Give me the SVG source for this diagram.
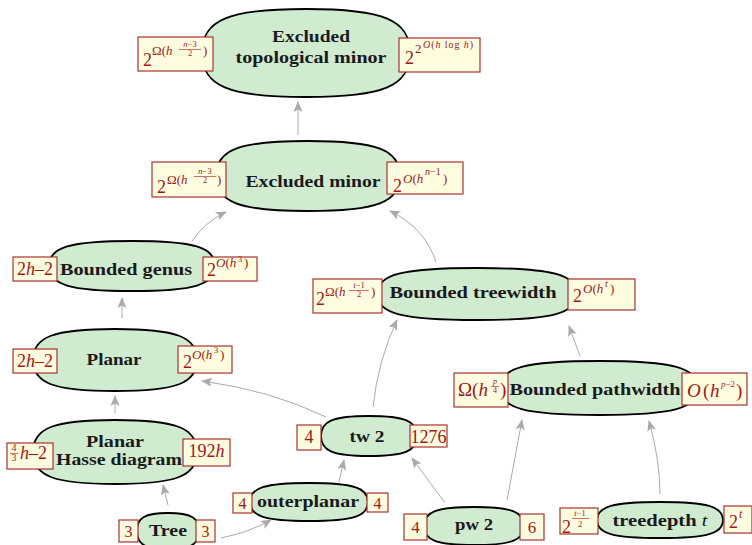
<svg xmlns="http://www.w3.org/2000/svg" width="752" height="545" viewBox="0 0 752 545">
<defs>
<style>
.blob{fill:#d0ebd0;stroke:#000;stroke-width:1.8}
.lb{fill:#fffde0;stroke:#a83232;stroke-width:1.2}
.nt{font-family:"Liberation Serif",serif;font-weight:bold;font-size:17px;fill:#1a1a1a;text-anchor:middle}
.m{font-family:"Liberation Serif",serif;fill:#a01818}
.c{text-anchor:middle}
.i{font-style:italic}
.bar{stroke:#a01818;stroke-width:0.6}
.e{fill:none;stroke:#aaa;stroke-width:1;marker-end:url(#ah)}
</style>
<marker id="ah" markerUnits="userSpaceOnUse" markerWidth="12" markerHeight="10" refX="10" refY="4.5" orient="auto">
<path d="M0,0 L11,4.5 L0,9 L2.5,4.5 Z" fill="#aaa"/>
</marker>
</defs>
<rect width="752" height="545" fill="#fff"/>
<g id="connectors">
<path class="e" d="M298,135 L298,102"/>
<path class="e" d="M192,241 Q205,222 226,212"/>
<path class="e" d="M436,262 Q425,228 390,211"/>
<path class="e" d="M122,318 L122,298"/>
<path class="e" d="M115,413 L115,396"/>
<path class="e" d="M168,505 L163,485"/>
<path class="e" d="M221,538 Q250,532 271,520"/>
<path class="e" d="M339,482 L344,460"/>
<path class="e" d="M326,417 Q270,390 202,381"/>
<path class="e" d="M373,407 Q378,360 397,320"/>
<path class="e" d="M445,503 L412,458"/>
<path class="e" d="M507,500 L522,420"/>
<path class="e" d="M660,494 Q660,460 649,421"/>
<path class="e" d="M580,356 L569,326"/>
</g>
<g id="etm">
<path class="blob" d="M202,53 C202,20 228,9 306,9 C384,9 410,20 410,53 C410,86 384,97 306,97 C228,97 202,86 202,53Z"/>
<text class="nt" x="311" y="42" textLength="78" lengthAdjust="spacingAndGlyphs">Excluded</text>
<text class="nt" x="311" y="63" textLength="151" lengthAdjust="spacingAndGlyphs">topological minor</text>
<rect class="lb" x="138" y="37" width="75" height="34"/>
<text class="m" x="143" y="66" font-size="18">2</text>
<text class="m" x="152" y="55" font-size="13">Ω(<tspan class="i">h</tspan></text>
<text class="m c" x="190" y="47" font-size="8.5"><tspan class="i">n</tspan>−3</text>
<line class="bar" x1="179" y1="49.5" x2="201" y2="49.5"/>
<text class="m c" x="190" y="56" font-size="8.5">2</text>
<text class="m" x="203" y="55" font-size="13">)</text>
<rect class="lb" x="399" y="38" width="81" height="34"/>
<text class="m" x="405" y="64" font-size="18">2</text>
<text class="m" x="415" y="53" font-size="13">2</text>
<text class="m" x="423" y="48" font-size="10" textLength="50"><tspan class="i">O</tspan>(<tspan class="i">h</tspan> log <tspan class="i">h</tspan>)</text>
</g>
<g id="em">
<path class="blob" d="M216,176 C216,149.75 239,141 308,141 C377,141 400,149.75 400,176 C400,202.25 377,211 308,211 C239,211 216,202.25 216,176Z"/>
<text class="nt" x="313" y="187" textLength="135" lengthAdjust="spacingAndGlyphs">Excluded minor</text>
<rect class="lb" x="152" y="162" width="74" height="35"/>
<text class="m" x="157" y="193" font-size="18">2</text>
<text class="m" x="167" y="184" font-size="13">Ω(<tspan class="i">h</tspan></text>
<text class="m c" x="205" y="174" font-size="8.5"><tspan class="i">n</tspan>−3</text>
<line class="bar" x1="194" y1="176.5" x2="216" y2="176.5"/>
<text class="m c" x="205" y="183" font-size="8.5">2</text>
<text class="m" x="217" y="184" font-size="13">)</text>
<rect class="lb" x="387" y="162" width="76" height="32"/>
<text class="m" x="393" y="192" font-size="18">2</text>
<text class="m" x="403" y="183" font-size="13"><tspan class="i">O</tspan>(<tspan class="i">h</tspan></text>
<text class="m" x="425" y="175" font-size="10"><tspan class="i">n</tspan>−1</text>
<text class="m" x="443" y="183" font-size="13">)</text>
</g>
<g id="genus">
<path class="blob" d="M49,266 C49,247.25 69.75,241 132,241 C194.25,241 215,247.25 215,266 C215,284.75 194.25,291 132,291 C69.75,291 49,284.75 49,266Z"/>
<text class="nt" x="126" y="275" textLength="132" lengthAdjust="spacingAndGlyphs">Bounded genus</text>
<rect class="lb" x="13" y="257" width="44" height="24"/>
<text class="m c" x="35" y="275" font-size="18">2<tspan class="i">h</tspan>–2</text>
<rect class="lb" x="203" y="257" width="54" height="24"/>
<text class="m" x="207" y="276" font-size="18">2</text>
<text class="m" x="216" y="267" font-size="13"><tspan class="i">O</tspan>(<tspan class="i">h</tspan></text>
<text class="m" x="238" y="262" font-size="8.5">3</text>
<text class="m" x="244" y="267" font-size="13">)</text>
</g>
<g id="btw">
<path class="blob" d="M377,294 C377,274.5 402,268 477,268 C552,268 577,274.5 577,294 C577,313.5 552,320 477,320 C402,320 377,313.5 377,294Z"/>
<text class="nt" x="473" y="298" textLength="167" lengthAdjust="spacingAndGlyphs">Bounded treewidth</text>
<rect class="lb" x="313" y="279" width="69" height="34"/>
<text class="m" x="316" y="305" font-size="18">2</text>
<text class="m" x="325" y="296" font-size="13">Ω(<tspan class="i">h</tspan></text>
<text class="m c" x="359" y="288" font-size="8.5"><tspan class="i">t</tspan>−1</text>
<line class="bar" x1="349" y1="290.5" x2="369" y2="290.5"/>
<text class="m c" x="359" y="297" font-size="8.5">2</text>
<text class="m" x="371" y="296" font-size="13">)</text>
<rect class="lb" x="568" y="279" width="67" height="31"/>
<text class="m" x="573" y="302" font-size="18">2</text>
<text class="m" x="583" y="293" font-size="13"><tspan class="i">O</tspan>(<tspan class="i">h</tspan></text>
<text class="m i" x="605" y="287" font-size="10">t</text>
<text class="m" x="610" y="293" font-size="13">)</text>
</g>
<g id="planar">
<path class="blob" d="M33,360 C33,336.75 53.5,329 115,329 C176.5,329 197,336.75 197,360 C197,383.25 176.5,391 115,391 C53.5,391 33,383.25 33,360Z"/>
<text class="nt" x="114" y="365" textLength="55" lengthAdjust="spacingAndGlyphs">Planar</text>
<rect class="lb" x="13" y="349" width="44" height="24"/>
<text class="m c" x="35" y="367" font-size="18">2<tspan class="i">h</tspan>–2</text>
<rect class="lb" x="178" y="346" width="54" height="27"/>
<text class="m" x="183" y="368" font-size="18">2</text>
<text class="m" x="192" y="359" font-size="13"><tspan class="i">O</tspan>(<tspan class="i">h</tspan></text>
<text class="m" x="214" y="353" font-size="8.5">3</text>
<text class="m" x="220" y="359" font-size="13">)</text>
</g>
<g id="bpw">
<path class="blob" d="M500,388 C500,367.75 524.75,361 599,361 C673.25,361 698,367.75 698,388 C698,408.25 673.25,415 599,415 C524.75,415 500,408.25 500,388Z"/>
<text class="nt" x="595" y="395" textLength="171" lengthAdjust="spacingAndGlyphs">Bounded pathwidth</text>
<rect class="lb" x="454" y="373" width="54" height="34"/>
<text class="m" x="458" y="396" font-size="19">Ω(<tspan class="i">h</tspan></text>
<text class="m c i" x="495" y="384" font-size="8">p</text>
<line class="bar" x1="491" y1="386.5" x2="499" y2="386.5"/>
<text class="m c" x="495" y="393" font-size="8">4</text>
<text class="m" x="500" y="396" font-size="19">)</text>
<rect class="lb" x="682" y="373" width="65" height="32"/>
<text class="m i" x="687" y="397" font-size="19">O</text>
<text class="m" x="703" y="397" font-size="19">(</text>
<text class="m i" x="710" y="397" font-size="19">h</text>
<text class="m" x="721" y="387" font-size="9"><tspan class="i">p</tspan>−2</text>
<text class="m" x="736" y="397" font-size="19">)</text>
</g>
<g id="hasse">
<path class="blob" d="M33,452 C33,428 53.5,420 115,420 C176.5,420 197,428 197,452 C197,476 176.5,484 115,484 C53.5,484 33,476 33,452Z"/>
<text class="nt" x="115" y="447" font-size="16" textLength="58" lengthAdjust="spacingAndGlyphs">Planar</text>
<text class="nt" x="119" y="465" font-size="16" textLength="126" lengthAdjust="spacingAndGlyphs">Hasse diagram</text>
<rect class="lb" x="7" y="443" width="46" height="26"/>
<text class="m c" x="14" y="451" font-size="10">4</text>
<line class="bar" x1="10" y1="453.5" x2="18" y2="453.5"/>
<text class="m c" x="14" y="461" font-size="10">3</text>
<text class="m" x="20" y="459" font-size="18"><tspan class="i">h</tspan>–2</text>
<rect class="lb" x="183" y="439" width="47" height="27"/>
<text class="m c" x="206.5" y="457" font-size="18">192<tspan class="i">h</tspan></text>
</g>
<g id="tw2">
<path class="blob" d="M321,436 C321,421 333,416 369,416 C405,416 417,421 417,436 C417,451 405,456 369,456 C333,456 321,451 321,436Z"/>
<text class="nt" x="367" y="442" textLength="35" lengthAdjust="spacingAndGlyphs">tw 2</text>
<rect class="lb" x="297" y="425" width="24" height="25"/>
<text class="m c" x="309" y="443" font-size="18">4</text>
<rect class="lb" x="410" y="425" width="37" height="22"/>
<text class="m c" x="428.5" y="443" font-size="18">1276</text>
</g>
<g id="outerplanar">
<path class="blob" d="M250,502 C250,487.75 264.75,483 309,483 C353.25,483 368,487.75 368,502 C368,516.25 353.25,521 309,521 C264.75,521 250,516.25 250,502Z"/>
<text class="nt" x="308" y="507" textLength="102" lengthAdjust="spacingAndGlyphs">outerplanar</text>
<rect class="lb" x="233" y="493" width="19" height="20"/>
<text class="m c" x="242.5" y="509" font-size="16">4</text>
<rect class="lb" x="367" y="493" width="21" height="19"/>
<text class="m c" x="377.5" y="509" font-size="16">4</text>
</g>
<g id="tree">
<path class="blob" d="M137,531 C137,517.5 144.75,513 168,513 C191.25,513 199,517.5 199,531 C199,544.5 191.25,549 168,549 C144.75,549 137,544.5 137,531Z"/>
<text class="nt" x="168" y="536" textLength="38" lengthAdjust="spacingAndGlyphs">Tree</text>
<rect class="lb" x="119" y="520" width="19" height="22"/>
<text class="m c" x="128.5" y="537" font-size="16">3</text>
<rect class="lb" x="196" y="520" width="19" height="22"/>
<text class="m c" x="205.5" y="537" font-size="16">3</text>
</g>
<g id="pw2">
<path class="blob" d="M424,526 C424,511.75 436.5,507 474,507 C511.5,507 524,511.75 524,526 C524,540.25 511.5,545 474,545 C436.5,545 424,540.25 424,526Z"/>
<text class="nt" x="474" y="530" textLength="38" lengthAdjust="spacingAndGlyphs">pw 2</text>
<rect class="lb" x="404" y="514" width="23" height="26"/>
<text class="m c" x="415.5" y="533" font-size="17">4</text>
<rect class="lb" x="520" y="514" width="24" height="26"/>
<text class="m c" x="532" y="533" font-size="17">6</text>
</g>
<g id="treedepth">
<path class="blob" d="M597,520 C597,506.5 612.75,502 660,502 C707.25,502 723,506.5 723,520 C723,533.5 707.25,538 660,538 C612.75,538 597,533.5 597,520Z"/>
<text class="nt" x="660" y="526" textLength="95" lengthAdjust="spacingAndGlyphs">treedepth <tspan font-weight="normal" font-style="italic">t</tspan></text>
<rect class="lb" x="560" y="508" width="38" height="26"/>
<text class="m" x="562" y="533" font-size="18">2</text>
<text class="m c" x="580" y="516" font-size="8.5"><tspan class="i">t</tspan>−1</text>
<line class="bar" x1="572" y1="518.5" x2="589" y2="518.5"/>
<text class="m c" x="580" y="527" font-size="8.5">2</text>
<rect class="lb" x="724" y="506" width="28" height="27"/>
<text class="m" x="729" y="528" font-size="18">2</text>
<text class="m i" x="739" y="518" font-size="12">t</text>
</g>
</svg>
